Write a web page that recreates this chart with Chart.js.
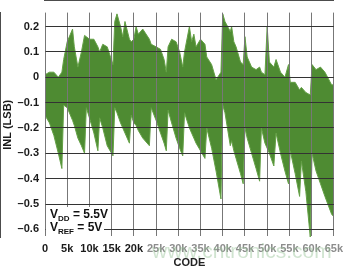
<!DOCTYPE html>
<html>
<head>
<meta charset="utf-8">
<script src="https://cdn.jsdelivr.net/npm/chart.js@4/dist/chart.umd.min.js"></script>
<style>
  html, body { margin: 0; padding: 0; background: #fff; }
  #wrap { width: 348px; height: 272px; position: relative; }
</style>
</head>
<body>
<div id="wrap"><canvas id="inlChart"></canvas></div>
<script>
// code positions in thousands (k)
const codes = [0, 1, 2, 3, 3.8, 4.2, 5, 6.2, 6.6, 7.4, 8.2, 8.9, 9.3, 10, 11, 11.9, 12.3, 13, 14, 15.3,
  15.7, 16.2, 17, 17.5, 18, 19, 19.4, 20, 20.5, 21, 22, 23.5, 23.9, 25, 26, 26.8, 27.3, 27.7, 28.5, 29.5, 30.3, 31,
  31.4, 32.5, 33, 33.5, 34, 35, 36, 36.4, 37.5, 38.5, 39.6, 40, 40.5, 41.7, 42, 42.5, 43, 44, 44.6, 45, 45.5, 46.5,
  47.5, 48.3, 48.7, 49.5, 50, 50.5, 51.5, 52, 53, 54, 54.8, 55.2, 56.3, 57.3, 57.7, 58.7, 59.7, 60.1, 61, 62,
  63, 64.5, 65];
// top edge of the INL band (LSB)
const inlHigh = [0.01, 0.02, 0.02, 0.0, 0.02, 0.07, 0.14, 0.19, 0.12, 0.04, 0.10, 0.165, 0.16, 0.15, 0.15, 0.12, 0.10, 0.13, 0.12, 0.05,
  0.22, 0.25, 0.20, 0.16, 0.22, 0.15, 0.14, 0.15, 0.20, 0.17, 0.19, 0.15, 0.13, 0.12, 0.11, 0.07, 0.02, 0.12, 0.15, 0.14, 0.10, 0.04,
  0.10, 0.20, 0.14, 0.17, 0.12, 0.15, 0.13, 0.08, 0.05, -0.01, 0.02, 0.25, 0.22, 0.18, 0.20, 0.14, 0.12, 0.06, 0.05, 0.16, 0.08, 0.04,
  0.03, 0.04, 0.02, 0.01, 0.20, 0.06, 0.04, 0.07, 0.02, 0.0, 0.05, -0.02, -0.02, -0.05, -0.04, -0.06, -0.07, 0.05, 0.03, 0.04,
  0.02, -0.03, -0.03];
// bottom edge of the INL band (LSB)
const inlLow = [-0.15, -0.18, -0.23, -0.30, -0.36, -0.11, -0.12, -0.17, -0.19, -0.24, -0.27, -0.30, -0.12, -0.16, -0.22, -0.29, -0.16, -0.20, -0.27, -0.31,
  -0.12, -0.14, -0.18, -0.20, -0.22, -0.26, -0.15, -0.18, -0.19, -0.21, -0.24, -0.27, -0.12, -0.17, -0.22, -0.26, -0.29, -0.13, -0.18, -0.24, -0.28, -0.31,
  -0.14, -0.20, -0.22, -0.24, -0.26, -0.29, -0.32, -0.20, -0.28, -0.37, -0.48, -0.11, -0.14, -0.27, -0.25, -0.29, -0.32, -0.38, -0.42, -0.20, -0.24, -0.30,
  -0.36, -0.41, -0.20, -0.26, -0.28, -0.30, -0.35, -0.22, -0.30, -0.37, -0.42, -0.29, -0.38, -0.47, -0.33, -0.45, -0.63, -0.30, -0.37, -0.42,
  -0.47, -0.54, -0.55];

const xTicks = [0, 5, 10, 15, 20, 25, 30, 35, 40, 45, 50, 55, 60, 65];
const yTicks = [0.2, 0.1, 0, -0.1, -0.2, -0.3, -0.4, -0.5, -0.6];

const green = '#4e8b32';
const font = { family: 'Liberation Sans, Arial, sans-serif', size: 11, weight: 'bold' };

const notePlugin = {
  id: 'notes',
  afterDraw(chart) {
    const c = chart.ctx;
    const a = chart.chartArea;
    c.save();
    // condition box in the lower left corner
    c.fillStyle = '#fff';
    c.fillRect(a.left + 1, 207, 58, a.bottom - 208);
    c.fillStyle = '#111';
    const rows = [['V', 'DD', ' = 5.5V', 218], ['V', 'REF', ' = 5V', 231]];
    rows.forEach(r => {
      let x = a.left + 5;
      c.font = 'bold 12px Liberation Sans, Arial, sans-serif';
      c.fillText(r[0], x, r[3]);
      x += c.measureText(r[0]).width;
      c.font = 'bold 8px Liberation Sans, Arial, sans-serif';
      c.fillText(r[1], x, r[3] + 3);
      x += c.measureText(r[1]).width;
      c.font = 'bold 12px Liberation Sans, Arial, sans-serif';
      c.fillText(r[2], x, r[3]);
    });
    // watermark
    c.font = '21px Liberation Sans, Arial, sans-serif';
    c.fillStyle = 'rgba(150, 195, 150, 0.45)';
    c.fillText('www.cntronics.com', 152, 258);
    c.restore();
  }
};

const ctx = document.getElementById('inlChart').getContext('2d');
new Chart(ctx, {
  type: 'line',
  data: {
    datasets: [
      {
        data: codes.map((k, i) => ({ x: k, y: inlLow[i] })),
        borderColor: '#64a046',
        borderWidth: 1,
        pointRadius: 0,
        fill: false
      },
      {
        data: codes.map((k, i) => ({ x: k, y: inlHigh[i] })),
        borderColor: '#64a046',
        backgroundColor: green,
        borderWidth: 1,
        pointRadius: 0,
        fill: '-1'
      }
    ]
  },
  options: {
    responsive: true,
    maintainAspectRatio: false,
    animation: false,
    layout: { padding: { top: 1, right: 7, left: 0, bottom: 0 } },
    plugins: { legend: { display: false }, tooltip: { enabled: false } },
    scales: {
      x: {
        type: 'linear',
        min: 0,
        max: 65,
        afterBuildTicks: s => { s.ticks = xTicks.map(v => ({ value: v })); },
        afterFit: s => { s.height = 35; },
        grid: { color: '#777', lineWidth: 1, drawTicks: false, z: 1 },
        border: { color: '#111', width: 1.5 },
        ticks: {
          padding: 5,
          maxRotation: 0,
          font: font,
          color: c => (c.tick && c.tick.value >= 25 ? '#8c8c8c' : '#1a1a1a'),
          callback: v => (v === 0 ? '0' : v + 'k')
        },
        title: { display: true, text: 'CODE', color: '#222', font: font, padding: { top: 0, bottom: 2 } }
      },
      y: {
        min: -0.63,
        max: 0.255,
        afterBuildTicks: s => { s.ticks = yTicks.map(v => ({ value: v })); },
        afterFit: s => { s.width = 45; },
        grid: { color: '#333', lineWidth: 1, drawTicks: false, z: 1 },
        border: { color: '#111', width: 1.5 },
        ticks: {
          padding: 6,
          font: font,
          color: '#1a1a1a',
          callback: v => (v === 0 ? '0' : (v < 0 ? '\u2013' + Math.abs(v).toFixed(1) : v.toFixed(1)))
        },
        title: { display: true, text: 'INL (LSB)', color: '#1a1a1a', font: font, padding: { top: 1, bottom: 0 } }
      }
    }
  },
  plugins: [notePlugin]
});
</script>
</body>
</html>
